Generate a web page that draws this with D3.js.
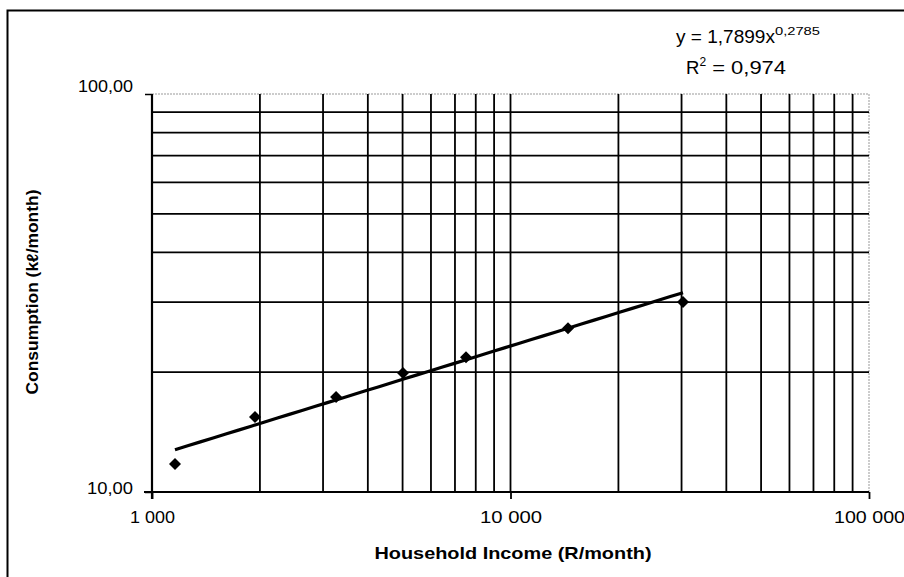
<!DOCTYPE html>
<html><head><meta charset="utf-8">
<script src="https://cdn.jsdelivr.net/npm/d3@7"></script>
<style>body{margin:0;background:#fff}svg{display:block}</style>
</head><body><svg id="c" width="904" height="577"></svg>
<script>
const incomes = [1159, 1938, 3261, 5013, 7513, 14468, 30285];
const consumption = [11.76, 15.43, 17.33, 19.9, 21.8, 25.8, 30.0];
const fitA = 1.7899, fitB = 0.2785;
const xTickLabels = ["1 000", "10 000", "100 000"];
const yTickLabels = ["10,00", "100,00"];
const xGrid = [2000,3000,4000,5000,6000,7000,8000,9000,10000,20000,30000,40000,50000,60000,70000,80000,90000];
const yGrid = [20,30,40,50,60,70,80,90];

const svg = d3.select("#c");
const L = 152, R = 869, T = 94, B = 492;
const x = d3.scaleLog().domain([1000, 100000]).range([L, R]);
const y = d3.scaleLog().domain([10, 100]).range([B, T]);
const font = "Liberation Sans, Arial, sans-serif";

// outer frame (left and top)
svg.append("path").attr("d", "M7.5,577 V10.5 H904").attr("fill","none").attr("stroke","#000").attr("stroke-width",2);

// plot border top/right dotted gray
svg.append("line").attr("x1",L).attr("x2",R).attr("y1",T).attr("y2",T).attr("stroke","#999").attr("stroke-width",1).attr("stroke-dasharray","2,1");
svg.append("line").attr("x1",R).attr("x2",R).attr("y1",T).attr("y2",B).attr("stroke","#999").attr("stroke-width",1).attr("stroke-dasharray","2,1");

// grid
svg.append("g").selectAll("line").data(xGrid).join("line")
  .attr("x1",d=>x(d)).attr("x2",d=>x(d)).attr("y1",T).attr("y2",B)
  .attr("stroke","#000").attr("stroke-width",1.8);
svg.append("g").selectAll("line").data(yGrid).join("line")
  .attr("x1",L).attr("x2",R).attr("y1",d=>y(d)).attr("y2",d=>y(d))
  .attr("stroke","#000").attr("stroke-width",1.8);

// axes
const xLens = [45, 62, 71];
const xAxis = d3.axisBottom(x).tickValues([1000,10000,100000]).tickFormat((d,i)=>xTickLabels[i]).tickSize(7).tickPadding(12);
const gx = svg.append("g").attr("transform",`translate(0,${B})`).call(xAxis);
gx.select(".domain").attr("stroke","#000").attr("stroke-width",2.2).attr("d",`M${L-8},0H${R}`);
gx.selectAll(".tick line").attr("stroke","#000").attr("stroke-width",1.8);
gx.selectAll("text").attr("font-family",font).attr("font-size",16.5).attr("fill","#000")
  .attr("textLength",(d,i)=>xLens[i]).attr("lengthAdjust","spacingAndGlyphs");

const yLens = [46, 55];
const yAxis = d3.axisLeft(y).tickValues([10,100]).tickFormat((d,i)=>yTickLabels[i]).tickSize(7).tickPadding(12);
const gy = svg.append("g").attr("transform",`translate(${L},0)`).call(yAxis);
gy.select(".domain").attr("stroke","#000").attr("stroke-width",2.2).attr("d",`M0,${B+7}V${T}`);
gy.selectAll(".tick line").attr("stroke","#000").attr("stroke-width",1.5);
gy.selectAll("text").attr("font-family",font).attr("font-size",16.5).attr("fill","#000").attr("dy","0.1em")
  .attr("textLength",(d,i)=>yLens[i]).attr("lengthAdjust","spacingAndGlyphs");
gy.selectAll(".tick").filter(d=>d===100).select("text").attr("dy","-0.15em");

// trendline
const x0 = d3.min(incomes), x1 = d3.max(incomes);
const fitPts = d3.range(0, 41).map(i => { const xv = x0 * Math.pow(x1/x0, i/40); return [xv, fitA*Math.pow(xv, fitB)]; });
svg.append("path").datum(fitPts)
  .attr("d", d3.line().x(d=>x(d[0])).y(d=>y(d[1])))
  .attr("fill","none").attr("stroke","#000").attr("stroke-width",3.2);

// points (diamonds)
svg.append("g").selectAll("path").data(incomes.map((v,i)=>[v,consumption[i]])).join("path")
  .attr("transform",d=>`translate(${x(d[0])},${y(d[1])}) rotate(45)`)
  .attr("d", d3.symbol().type(d3.symbolSquare).size(72))
  .attr("fill","#000");

// labels
svg.append("text").attr("x",513).attr("y",559).attr("text-anchor","middle")
  .attr("font-family",font).attr("font-weight","bold").attr("font-size",17)
  .attr("textLength",277).attr("lengthAdjust","spacingAndGlyphs").text("Household Income (R/month)");
svg.append("text").attr("transform","translate(38,292) rotate(-90)").attr("text-anchor","middle")
  .attr("font-family",font).attr("font-weight","bold").attr("font-size",16)
  .attr("textLength",205).attr("lengthAdjust","spacingAndGlyphs").text("Consumption (kℓ/month)");

// equation
const eq = svg.append("text").attr("x",676).attr("y",43)
  .attr("font-family",font).attr("font-size",17.5);
eq.append("tspan").attr("textLength",99).attr("lengthAdjust","spacingAndGlyphs").text("y = 1,7899x");
eq.append("tspan").attr("font-size",11.5).attr("dy",-8).attr("textLength",45).attr("lengthAdjust","spacingAndGlyphs").text("0,2785");
const r2 = svg.append("text").attr("x",686).attr("y",74)
  .attr("font-family",font).attr("font-size",18.5);
r2.append("tspan").text("R");
r2.append("tspan").attr("font-size",12).attr("dy",-8).text("2");
r2.append("tspan").attr("dy",8).attr("textLength",80).attr("lengthAdjust","spacingAndGlyphs").text(" = 0,974");
</script></body></html>
